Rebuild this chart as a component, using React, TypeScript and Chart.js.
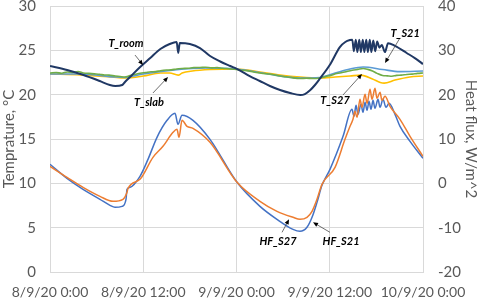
import React, { useEffect, useRef } from "react";
import { Chart, registerables } from "chart.js";

Chart.register(...registerables);

// ---- axis ticks ----
const tickHours = [0, 12, 24, 36, 48];
const tickLabels = ["8/9/20 0:00", "8/9/20 12:00", "9/9/20 0:00", "9/9/20 12:00", "10/9/20 0:00"];

// ---- T_room (°C) ----
const roomHours = [0, 2.2, 4.3, 6.4, 7.7, 8.4, 9.3, 9.65, 10.3, 11.6, 12.9, 14.2, 15.4, 16.3, 16.5, 16.7, 18.0, 19.3, 20.6, 21.9, 23.2, 24.1, 25.7, 27.0, 28.3, 29.6, 30.9, 32.2, 32.8, 33.5, 34.1, 34.7, 36.0, 37.3, 38.0, 38.6, 38.9, 39.1, 39.35, 39.55, 39.8, 40.0, 40.25, 40.45, 40.7, 40.9, 41.15, 41.35, 41.6, 41.85, 42.1, 42.4, 42.7, 43.1, 43.5, 44.4, 45.9, 47.0, 48];
const roomTemps = [23.23, 22.78, 22.22, 21.54, 21.09, 20.98, 21.09, 21.43, 21.99, 23.12, 24.13, 25.15, 25.71, 25.94, 24.7, 25.83, 25.71, 25.26, 24.36, 23.74, 23.23, 22.89, 22.1, 21.54, 20.98, 20.53, 20.19, 19.96, 20.07, 20.53, 21.09, 21.77, 23.34, 25.37, 25.94, 26.16, 26.2, 24.9, 26.2, 24.8, 26.2, 24.8, 26.2, 24.8, 26.2, 24.8, 26.2, 24.8, 26.1, 24.9, 26.0, 25.3, 25.6, 24.8, 25.8, 25.5, 24.7, 24.1, 23.45];

// ---- T_slab (°C) ----
const slabHours = [0, 4, 8, 9.6, 12, 14.2, 15.4, 16.5, 17, 18.3, 20.6, 24, 27, 29.6, 32.2, 34.7, 36.7, 38.6, 40, 41.5, 42.5, 43, 44.4, 46.3, 48];
const slabTemps = [22.33, 22.22, 21.99, 21.88, 22.1, 22.44, 22.44, 22.2, 22.44, 22.67, 22.84, 22.9, 22.56, 22.22, 21.99, 21.88, 21.99, 22.1, 22.2, 21.77, 21.37, 21.3, 21.65, 22.0, 22.1];

// ---- T_S21 (°C) ----
const s21Hours = [0, 4, 8.4, 9.6, 12, 16, 20, 24, 28, 32.2, 34.7, 36.7, 38.6, 40.3, 42.8, 45, 48];
const s21Temps = [22.33, 22.33, 21.99, 21.94, 22.33, 22.78, 23.0, 22.9, 22.33, 21.88, 21.94, 22.44, 22.9, 23.12, 22.84, 22.6, 22.67];

// ---- T_S27 (°C) ----
const s27Hours = [0, 0.8, 1.5, 2.2, 3, 3.6, 4.3, 5, 5.7, 6.4, 7, 7.6, 8.4, 9, 9.6, 10.3, 11, 11.6, 12.3, 13, 13.6, 14.2, 15, 15.6, 16.3, 17, 17.8, 18.5, 19.3, 20, 20.8, 21.5, 22.2, 23, 24, 24.8, 25.5, 26.2, 27, 27.8, 28.6, 29.6, 30.4, 31.2, 32.2, 33, 33.8, 34.7, 35.5, 36.2, 36.9, 37.6, 38.2, 38.9, 39.6, 40.3, 40.9, 41.5, 42.1, 42.8, 43.4, 44, 44.6, 45.2, 45.9, 46.6, 47.3, 48];
const s27Temps = [22.44, 22.5, 22.42, 22.56, 22.5, 22.62, 22.45, 22.4, 22.35, 22.3, 22.22, 22.2, 22.1, 22.05, 21.99, 22.15, 22.3, 22.42, 22.5, 22.58, 22.6, 22.7, 22.78, 22.8, 22.9, 22.95, 22.98, 23.05, 23.06, 23.1, 23.02, 23.05, 22.98, 22.92, 22.84, 22.75, 22.68, 22.55, 22.44, 22.35, 22.28, 22.1, 22.02, 21.9, 21.82, 21.85, 21.82, 21.88, 22.05, 22.2, 22.38, 22.5, 22.62, 22.75, 22.85, 22.95, 22.85, 22.67, 22.4, 22.16, 22.12, 22.08, 22.18, 22.2, 22.28, 22.32, 22.4, 22.44];

// ---- HF_S21 (W/m^2) ----
const hf21Hours = [0, 2.19, 4.25, 6.43, 7.72, 8.36, 9.27, 9.78, 9.91, 10.3, 11.58, 12.61, 13.77, 15.06, 16.09, 16.47, 16.99, 18.4, 20.59, 24.07, 27.02, 29.21, 31.27, 32.17, 33.07, 33.72, 34.36, 35.0, 36.03, 37.71, 38.86, 39.12, 39.38, 39.64, 40.02, 40.28, 40.54, 40.8, 41.05, 41.31, 41.57, 41.82, 42.21, 42.47, 42.85, 43.24, 43.63, 44.4, 45.04, 46.33, 48];
const hf21Values = [4.29, 1.13, -1.35, -3.61, -4.96, -5.41, -5.19, -3.61, -1.35, -0.9, 1.58, 5.41, 10.38, 14.21, 15.79, 13.31, 15.34, 14.21, 9.92, 0.23, -5.19, -8.12, -10.38, -10.83, -9.92, -7.67, -4.29, -0.45, 3.16, 10.6, 16.69, 15.11, 17.59, 15.56, 17.82, 16.01, 18.27, 16.47, 18.5, 16.69, 18.72, 16.92, 18.95, 17.14, 18.95, 17.14, 18.04, 15.56, 12.86, 9.47, 5.64];

// ---- HF_S27 (W/m^2) ----
const hf27Hours = [0, 2.19, 4.25, 6.43, 8.11, 9.39, 9.91, 10.04, 11.58, 13.25, 14.54, 15.83, 16.34, 16.6, 16.99, 17.63, 18.4, 20.59, 24.07, 27.02, 29.21, 31.27, 32.17, 33.07, 33.72, 34.36, 35.0, 36.68, 37.96, 38.61, 38.99, 39.25, 39.51, 39.89, 40.15, 40.54, 40.8, 41.18, 41.44, 41.82, 42.08, 42.47, 42.72, 43.11, 43.75, 45.04, 46.33, 48];
const hf27Values = [3.83, 1.35, -0.9, -2.93, -4.06, -3.61, -2.03, -1.13, 0.9, 5.86, 8.35, 11.5, 12.18, 10.38, 14.21, 12.86, 12.41, 9.25, 0.23, -4.06, -6.32, -7.67, -8.12, -7.67, -6.32, -3.61, -0.23, 3.61, 9.92, 12.86, 14.44, 16.24, 14.89, 18.95, 17.14, 20.08, 18.04, 21.2, 18.95, 21.43, 19.17, 20.53, 18.72, 19.62, 17.37, 14.44, 10.6, 6.09];

// ---- annotations (data coordinates) ----
const annotationLabels = ["T_room", "T_slab", "T_S21", "T_S27", "HF_S27", "HF_S21"];
const annotationAxes = ["y", "y", "y", "y", "y1", "y1"];
const labelHours = [9.78, 12.74, 45.7, 36.68, 29.34, 37.45];
const labelValues = [25.82, 19.17, 26.95, 19.4, -13.08, -13.08];
const arrowFromHours = [10.94, 13.25, 45.04, 37.7, 29.86, 36.03];
const arrowFromValues = [24.47, 20.19, 26.4, 19.96, -11.05, -11.05];
const arrowToHours = [11.97, 15.19, 43.11, 40.15, 30.76, 33.85];
const arrowToValues = [23.35, 21.99, 23.57, 22.33, -8.12, -8.8];

const toPoints = (xs: number[], ys: number[]) => xs.map((x, i) => ({ x, y: ys[i] }));

const FONT = "Lato, 'Open Sans', sans-serif";
const TEXT = "#595959";
const GRID = "#D9D9D9";

const annotationPlugin = {
  id: "arrowLabels",
  afterDatasetsDraw(chart: any) {
    const ctx = chart.ctx;
    const xs = chart.scales.x;
    ctx.save();
    for (let i = 0; i < annotationLabels.length; i++) {
      const ys = chart.scales[annotationAxes[i]];
      const x0 = xs.getPixelForValue(arrowFromHours[i]);
      const y0 = ys.getPixelForValue(arrowFromValues[i]);
      const x1 = xs.getPixelForValue(arrowToHours[i]);
      const y1 = ys.getPixelForValue(arrowToValues[i]);
      const ang = Math.atan2(y1 - y0, x1 - x0);
      const head = 5;
      const hw = 2.2;
      ctx.strokeStyle = "#404040";
      ctx.fillStyle = "#000000";
      ctx.lineWidth = 0.75;
      ctx.beginPath();
      ctx.moveTo(x0, y0);
      ctx.lineTo(x1 - Math.cos(ang) * head * 0.8, y1 - Math.sin(ang) * head * 0.8);
      ctx.stroke();
      ctx.beginPath();
      ctx.moveTo(x1, y1);
      ctx.lineTo(x1 - Math.cos(ang) * head - Math.sin(ang) * hw, y1 - Math.sin(ang) * head + Math.cos(ang) * hw);
      ctx.lineTo(x1 - Math.cos(ang) * head + Math.sin(ang) * hw, y1 - Math.sin(ang) * head - Math.cos(ang) * hw);
      ctx.closePath();
      ctx.fill();
      ctx.font = "italic bold 11px " + FONT;
      ctx.textAlign = "center";
      ctx.textBaseline = "middle";
      ctx.fillStyle = "#000000";
      ctx.fillText(annotationLabels[i], xs.getPixelForValue(labelHours[i]), ys.getPixelForValue(labelValues[i]));
    }
    ctx.restore();
  },
};

export default function App() {
  const ref = useRef<HTMLCanvasElement>(null);
  useEffect(() => {
    if (!ref.current) return;
    const line = (label: string, data: any[], color: string, axis: string, width: number) => ({
      label,
      data,
      borderColor: color,
      backgroundColor: color,
      borderWidth: width,
      pointRadius: 0,
      cubicInterpolationMode: "monotone" as const,
      fill: false,
      yAxisID: axis,
    });
    const chart = new Chart(ref.current, {
      type: "line",
      data: {
        datasets: [
          line("T_room", toPoints(roomHours, roomTemps), "#203864", "y", 2),
          line("T_S27", toPoints(s27Hours, s27Temps), "#70AD47", "y", 1.6),
          line("T_S21", toPoints(s21Hours, s21Temps), "#5B9BD5", "y", 1.6),
          line("T_slab", toPoints(slabHours, slabTemps), "#FFC000", "y", 1.6),
          line("HF_S27", toPoints(hf27Hours, hf27Values), "#ED7D31", "y1", 1.5),
          line("HF_S21", toPoints(hf21Hours, hf21Values), "#4472C4", "y1", 1.5),
        ],
      },
      options: {
        animation: false,
        responsive: true,
        maintainAspectRatio: false,
        layout: { padding: { top: 6, left: 0, right: 0, bottom: 0 } },
        plugins: { legend: { display: false }, tooltip: { enabled: false } },
        scales: {
          x: {
            type: "linear",
            min: 0,
            max: 48,
            afterBuildTicks: (s: any) => {
              s.ticks = tickHours.map((v) => ({ value: v }));
            },
            ticks: {
              autoSkip: false,
              maxRotation: 0,
              padding: 12,
              color: TEXT,
              font: { family: FONT, size: 14 },
              callback: (v: any) => tickLabels[tickHours.indexOf(Number(v))] ?? "",
            },
            grid: { color: GRID, drawTicks: false },
            border: { color: GRID },
            afterFit: (s: any) => {
              s.height = 29;
              s.paddingLeft = 0;
              s.paddingRight = 0;
            },
          },
          y: {
            position: "left",
            min: 0,
            max: 30,
            ticks: { stepSize: 5, padding: 14, color: TEXT, font: { family: FONT, size: 15 } },
            grid: { color: GRID, drawTicks: false },
            border: { color: GRID },
            title: { display: true, text: "Temprature, °C", color: TEXT, padding: 0, font: { family: FONT, size: 15 } },
            afterFit: (s: any) => {
              s.width = 50;
              s.paddingTop = 0;
              s.paddingBottom = 0;
            },
          },
          y1: {
            position: "right",
            min: -20,
            max: 40,
            ticks: { stepSize: 10, padding: 15, color: TEXT, font: { family: FONT, size: 15 } },
            grid: { display: false, drawTicks: false },
            border: { display: false },
            title: { display: true, text: "Heat flux, W/m^2", color: TEXT, padding: 0, font: { family: FONT, size: 15 } },
            afterFit: (s: any) => {
              s.width = 57;
              s.paddingTop = 0;
              s.paddingBottom = 0;
            },
          },
        },
      },
      plugins: [annotationPlugin],
    });
    return () => chart.destroy();
  }, []);
  return (
    <div style={{ position: "absolute", left: 0, top: 0, width: 480, height: 301, background: "#fff" }}>
      <canvas ref={ref} />
    </div>
  );
}
